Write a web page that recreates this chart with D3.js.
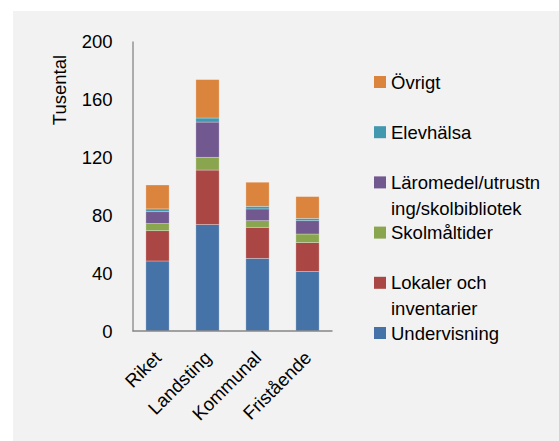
<!DOCTYPE html>
<html><head><meta charset="utf-8">
<script src="https://cdn.jsdelivr.net/npm/d3@7"></script>
<style>
html,body{margin:0;padding:0;background:#fff;}
svg{display:block;}
text{font-family:"Liberation Sans",Arial,sans-serif;fill:#000;}
</style></head>
<body>
<svg id="chart" width="559" height="441"></svg>
<script>
const categories = ["Riket", "Landsting", "Kommunal", "Fristående"];
const seriesNames = ["Undervisning", "Lokaler och inventarier", "Skolmåltider", "Läromedel/utrustning/skolbibliotek", "Elevhälsa", "Övrigt"];
const undervisning = [48.3, 73.4, 50.1, 41.0];
const lokaler = [20.9, 37.6, 21.4, 20.0];
const skolmaltider = [4.9, 8.8, 4.6, 5.9];
const laromedel = [8.2, 24.3, 8.1, 9.2];
const elevhalsa = [1.9, 2.8, 1.8, 1.6];
const ovrigt = [16.5, 26.5, 16.6, 15.0];
const yTicks = [0, 40, 80, 120, 160, 200];
const legendLines = [
  ["Övrigt"],
  ["Elevhälsa"],
  ["Läromedel/utrustn", "ing/skolbibliotek"],
  ["Skolmåltider"],
  ["Lokaler och", "inventarier"],
  ["Undervisning"]
];
const colors = ["#4572A7", "#AA4643", "#89A54E", "#71588F", "#4198AF", "#DB843D"];

const seriesValues = [undervisning, lokaler, skolmaltider, laromedel, elevhalsa, ovrigt];
const rows = categories.map((c, i) => {
  const r = {cat: c};
  seriesNames.forEach((s, j) => r[s] = seriesValues[j][i]);
  return r;
});
const stacked = d3.stack().keys(seriesNames)(rows);

const svg = d3.select("#chart");
svg.append("rect").attr("x", 13).attr("y", 11).attr("width", 546).attr("height", 430).attr("fill", "#F2F2F2");

const x = d3.scaleBand().domain(categories).range([132.5, 332.5]).paddingInner(0.535).paddingOuter(0.2675);
const y = d3.scaleLinear().domain([0, 200]).range([331, 41]);

const g = svg.append("g");
stacked.forEach((layer, j) => {
  g.selectAll(null).data(layer).enter().append("rect")
    .attr("x", d => x(d.data.cat))
    .attr("width", x.bandwidth())
    .attr("y", d => y(d[1]))
    .attr("height", d => y(d[0]) - y(d[1]))
    .attr("fill", colors[j])
    .attr("stroke", "rgba(255,255,255,0.35)")
    .attr("stroke-width", 0.8);
});

// axes
const yAxis = svg.append("g").attr("transform", "translate(132.5,0)")
  .call(d3.axisLeft(y).tickValues(yTicks).tickSize(0).tickPadding(20));
yAxis.select(".domain").attr("stroke", "#868686").attr("stroke-width", 1.3);
yAxis.selectAll("text").attr("font-size", 18.5).attr("dy", "0.35em")
  .style("font-family", "Liberation Sans, Arial, sans-serif");

const xAxis = svg.append("g").attr("transform", "translate(0,331)")
  .call(d3.axisBottom(x).tickSize(0).tickFormat(""));
xAxis.select(".domain").attr("stroke", "#868686").attr("stroke-width", 1.3)
  .attr("d", "M132.5,0H332.5");

svg.append("g").selectAll("text").data(categories).enter().append("text")
  .attr("transform", d => `translate(${x(d) + x.bandwidth() / 2 + 5},${359}) rotate(-45)`)
  .attr("text-anchor", "end")
  .attr("font-size", 18.5)
  .text(d => d);

svg.append("text")
  .attr("transform", "translate(66,90) rotate(-90)")
  .attr("text-anchor", "middle")
  .attr("font-size", 18.5)
  .text("Tusental");

// legend
const lg = svg.append("g");
legendLines.forEach((lines, i) => {
  const cy = 82 + i * 50.2;
  lg.append("rect").attr("x", 374).attr("y", cy - 6).attr("width", 12).attr("height", 12)
    .attr("fill", colors[colors.length - 1 - i]);
  lines.forEach((t, k) => {
    lg.append("text").attr("x", 391).attr("y", cy + k * 26 + 6.5)
      .attr("font-size", 18.5).text(t);
  });
});
</script>
</body></html>
